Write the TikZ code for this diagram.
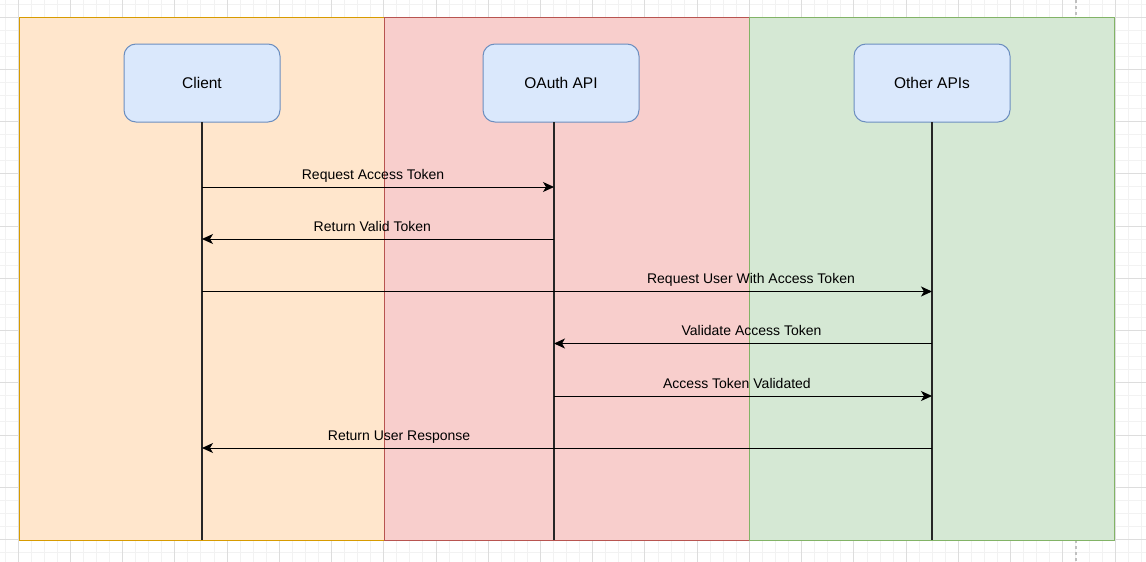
\documentclass[tikz,border=0pt]{standalone}
\usepackage{fontspec}
\setmainfont{Liberation Sans}
\usetikzlibrary{arrows.meta}
\usetikzlibrary{calc}

\definecolor{gridminor}{HTML}{F2F2F2}
\definecolor{gridmajor}{HTML}{DDDDDD}
\definecolor{pagebreak}{HTML}{C0C0C0}
\definecolor{clientfill}{HTML}{FFE6CC}
\definecolor{clientdraw}{HTML}{D79B00}
\definecolor{oauthfill}{HTML}{F8CECC}
\definecolor{oauthdraw}{HTML}{B85450}
\definecolor{otherfill}{HTML}{D5E8D4}
\definecolor{otherdraw}{HTML}{82B366}
\definecolor{actorfill}{HTML}{DAE8FC}
\definecolor{actordraw}{HTML}{6C8EBF}

\begin{document}
\begin{tikzpicture}[x=1pt,y=-1pt,
  lane/.style={line width=1pt, minimum width=365pt, minimum height=523pt,
    inner sep=0, outer sep=0, anchor=north west},
  actor/.style={draw=actordraw, fill=actorfill, line width=1pt, rounded corners=12pt,
    minimum width=156pt, minimum height=78pt, inner sep=0, outer sep=0,
    anchor=north west, font=\fontsize{15.5}{18}\selectfont},
  lifeline/.style={black!85, line width=1.2pt},
  msg/.style={black, line width=1pt, -{Stealth[length=11pt,width=10pt,inset=3pt]}},
  lbl/.style={font=\fontsize{14}{16}\selectfont, text=black, text height=10pt,
    text depth=3pt, inner sep=0, yshift=11.5pt}]
\useasboundingbox (0,0) rectangle (1146,562);
\fill[white] (0,0) rectangle (1146,562);

% background grid
\foreach \i in {-1,...,87} {
 \draw[gridminor, line width=0.8pt] ({18+13.06*\i},0) -- ++(0,562);
}
\foreach \j in {-1,...,42} {
 \draw[gridminor, line width=0.8pt] (0,{17+13.06*\j}) -- ++(1146,0);
}
\foreach \i in {0,...,21} {
 \draw[gridmajor, line width=0.8pt] ({18+52.24*\i},0) -- ++(0,562);
}
\foreach \j in {0,...,10} {
 \draw[gridmajor, line width=0.8pt] (0,{17+52.24*\j}) -- ++(1146,0);
}
\draw[pagebreak, dashed, line width=1.2pt] (1076,0) -- (1076,562);

% lanes
\node[lane, draw=clientdraw, fill=clientfill] (clientlane) at (19.5,17) {};
\node[lane, draw=oauthdraw, fill=oauthfill] (oauthlane) at (384.5,17) {};
\node[lane, draw=otherdraw, fill=otherfill] (otherlane) at (749.5,17) {};

% participants
\node[actor] (client) at (124,44) {Client};
\node[actor] (oauth) at (483,44) {OAuth API};
\node[actor] (other) at (854,44) {Other APIs};

\coordinate (clientend) at (202,540);
\coordinate (oauthend) at (554,540);
\coordinate (otherend) at (932,540);
\draw[lifeline] (client.south) -- (clientend);
\draw[lifeline] (oauth.south -| oauthend) -- (oauthend);
\draw[lifeline] (other.south) -- (otherend);

\foreach \r/\y in {1/187,2/239,3/291.5,4/343.5,5/396,6/448} {
 \coordinate (cl\r) at (clientend |- 0,\y);
 \coordinate (oa\r) at (oauthend |- 0,\y);
 \coordinate (ot\r) at (otherend |- 0,\y);
}

% messages
\draw[msg] (cl1) -- (oa1) node[lbl, pos=0.486] {Request Access Token};
\draw[msg] (oa2) -- (cl2) node[lbl, pos=0.516] {Return Valid Token};
\draw[msg] (cl3) -- (ot3) node[lbl, pos=0.752] {Request User With Access Token};
\draw[msg] (ot4) -- (oa4) node[lbl, pos=0.4775] {Validate Access Token};
\draw[msg] (oa5) -- (ot5) node[lbl, pos=0.484] {Access Token Validated};
\draw[msg] (ot6) -- (cl6) node[lbl, pos=0.730] {Return User Response};
\end{tikzpicture}
\end{document}
